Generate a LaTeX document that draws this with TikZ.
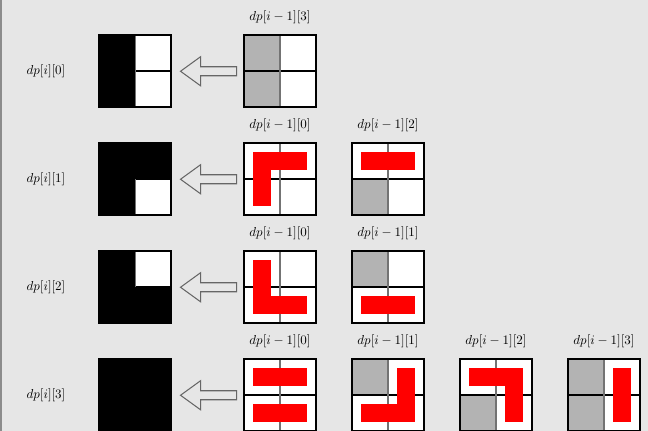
\documentclass[tikz,border=0pt]{standalone}
\usetikzlibrary{calc}
\definecolor{bg}{HTML}{E6E6E6}
\definecolor{cellgray}{HTML}{B3B3B3}
\newcommand{\Cell}[3]{\fill[#1] (#2*36,#3*36) rectangle ++(36,36);}
\newcommand{\HDom}[1]{\fill[red] (9,#1*36+9) rectangle (63,#1*36+27);}
\newcommand{\VDom}[1]{\fill[red] (#1*36+9,9) rectangle (#1*36+27,63);}
% #1 name, #2 x, #3 y (top-left, px), #4 fills under lines, #5 pieces over lines
\newcommand{\Grid}[5]{%
  \node[gridnode] (#1) at (#2,#3) {};
  \begin{scope}[shift={(#2,#3)}]
    #4
    \draw[gridline] (0,36) -- (72,36);
    \draw[gridline, draw=black!55] (36,0) -- (36,72);
    #5
    \draw[gridline] (0,0) rectangle (72,72);
  \end{scope}}
\newcommand{\Hollow}[1]{%
  \draw[hollow] ($(#1.east)+(9,0)$) -- ++(20,-14.5) -- ++(0,10) -- ++(36,0)
    -- ++(0,9) -- ++(-36,0) -- ++(0,10) -- cycle;}
\begin{document}
\begin{tikzpicture}[x=0.77pt,y=-0.77pt,
  gridnode/.style={draw=none, fill=white, minimum size=55.44pt, inner sep=0pt, anchor=north west},
  gridline/.style={draw=black, line width=0.8pt},
  hollow/.style={draw=black!60, line width=0.8pt, line join=miter},
  lbl/.style={inner sep=0pt}]
\fill[bg] (0,0) rectangle (648,431);
\useasboundingbox (0,0) rectangle (648,431);
\draw[black!45, line width=0.8pt] (1,0) -- (1,431);

% row 1
\Grid{L0}{99}{35}{}{\Cell{black}{0}{0}\Cell{black}{0}{1}}
\Grid{R03}{244}{35}{\Cell{cellgray}{0}{0}\Cell{cellgray}{0}{1}}{}
\node[lbl] (s0) at (46,71) {$dp[i][0]$};
\node[lbl] (t03) at (280,17) {$dp[i-1][3]$};
\Hollow{L0}

% row 2
\Grid{L1}{99}{143}{}{\Cell{black}{0}{0}\Cell{black}{1}{0}\Cell{black}{0}{1}}
\Grid{R10}{244}{143}{}{\HDom{0}\VDom{0}}
\Grid{R12}{352}{143}{\Cell{cellgray}{0}{1}}{\HDom{0}}
\node[lbl] (s1) at (46,179) {$dp[i][1]$};
\node[lbl] (t10) at (280,125) {$dp[i-1][0]$};
\node[lbl] (t12) at (388,125) {$dp[i-1][2]$};
\Hollow{L1}

% row 3
\Grid{L2}{99}{251}{}{\Cell{black}{0}{0}\Cell{black}{0}{1}\Cell{black}{1}{1}}
\Grid{R20}{244}{251}{}{\VDom{0}\HDom{1}}
\Grid{R21}{352}{251}{\Cell{cellgray}{0}{0}}{\HDom{1}}
\node[lbl] (s2) at (46,287) {$dp[i][2]$};
\node[lbl] (t20) at (280,233) {$dp[i-1][0]$};
\node[lbl] (t21) at (388,233) {$dp[i-1][1]$};
\Hollow{L2}

% row 4
\Grid{L3}{99}{359}{}{\Cell{black}{0}{0}\Cell{black}{1}{0}\Cell{black}{0}{1}\Cell{black}{1}{1}}
\Grid{R30}{244}{359}{}{\HDom{0}\HDom{1}}
\Grid{R31}{352}{359}{\Cell{cellgray}{0}{0}}{\VDom{1}\HDom{1}}
\Grid{R32}{460}{359}{\Cell{cellgray}{0}{1}}{\HDom{0}\VDom{1}}
\Grid{R33}{568}{359}{\Cell{cellgray}{0}{0}\Cell{cellgray}{0}{1}}{\VDom{1}}
\node[lbl] (s3) at (46,395) {$dp[i][3]$};
\node[lbl] (t30) at (280,341) {$dp[i-1][0]$};
\node[lbl] (t31) at (388,341) {$dp[i-1][1]$};
\node[lbl] (t32) at (496,341) {$dp[i-1][2]$};
\node[lbl] (t33) at (604,341) {$dp[i-1][3]$};
\Hollow{L3}
\end{tikzpicture}
\end{document}
